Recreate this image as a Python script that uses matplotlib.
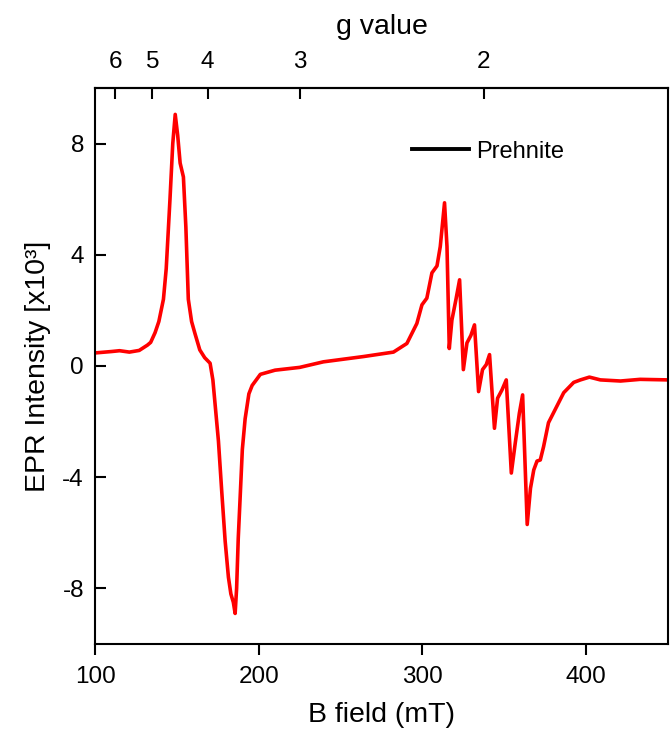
import matplotlib
matplotlib.use("Agg")
import matplotlib.pyplot as plt
from matplotlib.lines import Line2D
import numpy as np

# ---- data ----
field_mT = [100, 110, 115, 121, 127, 132, 134, 136.7, 139, 141.8, 143.5, 145.8, 147.5, 149,
            150.5, 152, 154, 155.5, 157, 159, 161, 164, 167, 170.3, 172, 175.4, 177.4, 179.5,
            181.5, 183, 184.5, 185.6, 186.5, 187.5, 188.6, 190, 191.7, 194, 196, 201, 210, 225,
            239.5, 264, 282.3, 290.5, 296.6, 299.7, 302.7, 305.8, 308.9, 310.9, 313.5, 315,
            316.4, 318, 320.5, 322.7, 325, 327.2, 329.6, 331.8, 334.3, 336.7, 339, 341, 344,
            345.9, 348.6, 351.2, 354.3, 356.7, 359.2, 361.2, 364, 366, 368, 370, 372, 374, 377,
            380.1, 386.3, 392.4, 396.5, 402, 408.7, 421, 433, 450]
intensity = [0.47, 0.52, 0.55, 0.5, 0.56, 0.75, 0.85, 1.2, 1.6, 2.4, 3.5, 6.0, 8.0, 9.05,
             8.3, 7.3, 6.8, 5.0, 2.4, 1.6, 1.18, 0.58, 0.3, 0.1, -0.5, -2.7, -4.5, -6.3,
             -7.6, -8.2, -8.5, -8.9, -8.0, -6.2, -4.8, -3.0, -1.9, -1.0, -0.7, -0.3, -0.15, -0.05,
             0.15, 0.34, 0.5, 0.81, 1.53, 2.2, 2.44, 3.35, 3.6, 4.3, 5.87, 4.3,
             0.63, 1.65, 2.4, 3.1, -0.13, 0.83, 1.1, 1.48, -0.92, -0.13, 0.05, 0.41, -2.24,
             -1.16, -0.86, -0.5, -3.85, -2.77, -1.7, -1.04, -5.7, -4.4, -3.74, -3.42, -3.38, -2.9, -2.04,
             -1.68, -0.96, -0.59, -0.5, -0.4, -0.5, -0.54, -0.48, -0.5]
x_ticks = [100, 200, 300, 400]
y_ticks = [-8, -4, 0, 4, 8]
g_ticks = [6, 5, 4, 3, 2]
series_label = "Prehnite"
G_CONST = 675.0  # g * B (mT)

plt.rcParams['font.family'] = ['Liberation Sans', 'DejaVu Sans']
plt.rcParams['axes.unicode_minus'] = False

fig = plt.figure(figsize=(6.7, 7.33), dpi=100)
ax = fig.add_axes([95/670, 1-644/733, 573/670, 556/733])

ax.plot(field_mT, intensity, color='#ff0000', lw=2.6, solid_joinstyle='round')
ax.set_xlim(100, 450)
ax.set_ylim(-10, 10)
ax.set_xticks(x_ticks)
ax.set_yticks(y_ticks)
ax.set_yticklabels([str(v) for v in y_ticks])

for s in ax.spines.values():
    s.set_linewidth(1.5)
ax.tick_params(axis='x', direction='out', length=8, width=1.5, labelsize=17.5, pad=8)
ax.tick_params(axis='y', direction='in', length=8, width=1.5, labelsize=17.5, pad=8)

ax.set_xlabel("B field (mT)", fontsize=20.5, labelpad=10)
ax.set_ylabel("EPR Intensity [x10³]", fontsize=20.5, labelpad=8)

sec = ax.secondary_xaxis('top', functions=(lambda b: G_CONST / np.asarray(b, dtype=float),
                                            lambda g: G_CONST / np.asarray(g, dtype=float)))
sec.set_xticks(g_ticks)
sec.set_xticklabels([str(g) for g in g_ticks])
sec.tick_params(direction='in', length=8, width=1.5, labelsize=17.5, pad=11)
sec.spines['top'].set_linewidth(1.5)
sec.set_xlabel("g value", fontsize=20.5, labelpad=12)

handle = Line2D([], [], color='black', lw=2.8)
ax.legend([handle], [series_label], frameon=False, fontsize=17,
          loc='center left', bbox_to_anchor=((412-95)/573, (644-151.7)/556),
          borderaxespad=0, borderpad=0, handlelength=2.4, handletextpad=0.33)

fig.savefig("out.png", dpi=100)
